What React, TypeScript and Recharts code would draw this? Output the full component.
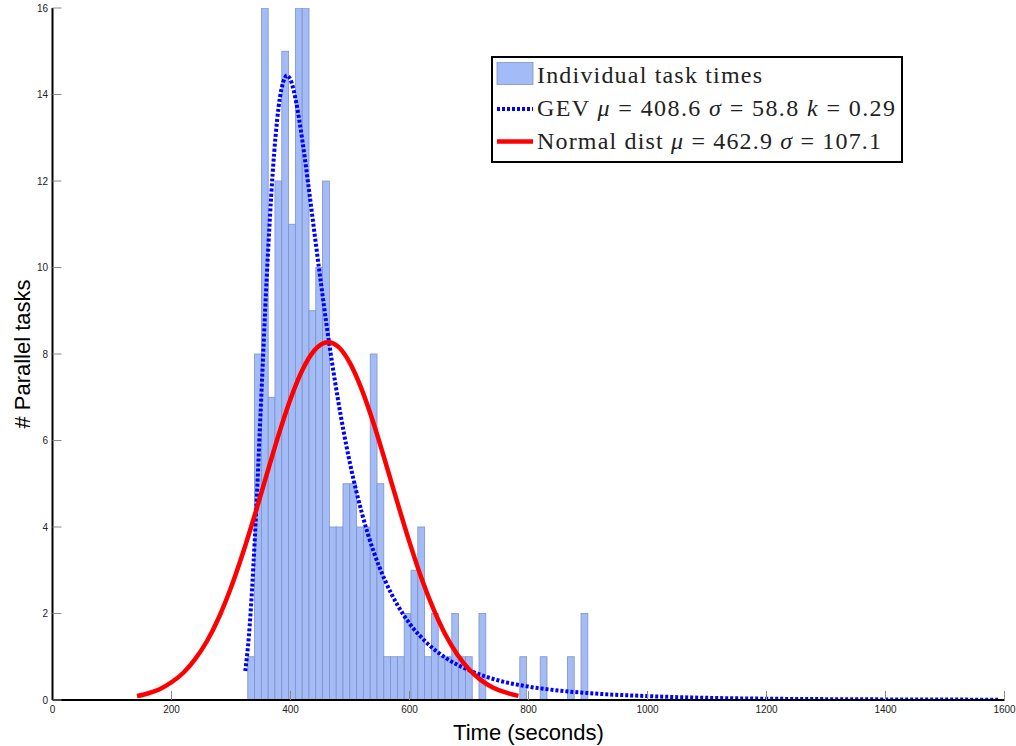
import React from "react";
import { ComposedChart, Bar, Line, XAxis, YAxis, Legend, Label } from "recharts";

// histogram: 50 bins of ~11.4 s, counts
const binCenters = [
  333.9, 345.3, 356.8, 368.2, 379.6, 391.1, 402.5, 413.9, 425.4, 436.8,
  448.2, 459.6, 471.1, 482.5, 493.9, 505.4, 516.8, 528.2, 539.7, 551.1,
  562.5, 573.9, 585.4, 596.8, 608.2, 619.7, 631.1, 642.5, 654.0, 665.4,
  676.8, 688.2, 699.7, 711.1, 722.5, 734.0, 745.4, 756.8, 768.3, 779.7,
  791.1, 802.5, 814.0, 825.4, 836.8, 848.3, 859.7, 871.1, 882.6, 894.0,
];
const binCounts = [
  1, 8, 16, 7, 12, 15, 11, 16, 16, 9,
  10, 12, 4, 4, 5, 5, 4, 4, 8, 5,
  1, 1, 1, 2, 3, 4, 1, 2, 1, 1,
  2, 1, 1, 0, 2, 0, 0, 0, 0, 0,
  1, 0, 0, 1, 0, 0, 0, 1, 0, 2,
];

// fitted GEV curve
const gevTime = [
  324, 330, 340, 350, 360, 370, 380, 390, 394, 400, 410, 420, 430, 440, 450,
  460, 470, 480, 500, 520, 540, 560, 580, 600, 630, 660, 700, 750, 800, 850,
  900, 1000, 1100, 1200, 1300, 1400, 1500, 1590,
];
const gevCount = [
  0.67, 1.47, 3.72, 6.73, 9.75, 12.17, 13.71, 14.37, 14.44, 14.34, 13.79, 12.93, 11.91, 10.83, 9.76,
  8.73, 7.79, 6.93, 5.47, 4.32, 3.42, 2.73, 2.19, 1.77, 1.31, 0.98, 0.69, 0.45, 0.31, 0.22,
  0.16, 0.09, 0.05, 0.03, 0.02, 0.014, 0.01, 0.007,
];

// fitted normal curve
const normTime = [
  142, 160, 180, 200, 220, 240, 260, 280, 300, 320, 340, 360, 380, 400, 420,
  440, 463, 480, 500, 520, 540, 560, 580, 600, 620, 640, 660, 680, 700, 720,
  740, 760, 783,
];
const normCount = [
  0.09, 0.15, 0.25, 0.41, 0.63, 0.95, 1.37, 1.92, 2.6, 3.4, 4.28, 5.21, 6.13, 6.96, 7.63,
  8.08, 8.27, 8.17, 7.79, 7.17, 6.38, 5.48, 4.55, 3.65, 2.82, 2.11, 1.52, 1.06, 0.71, 0.46,
  0.29, 0.18, 0.095,
];

const xTicks = [0, 200, 400, 600, 800, 1000, 1200, 1400, 1600];
const yTicks = [0, 2, 4, 6, 8, 10, 12, 14, 16];

const W = 1016;
const H = 746;
const margin = { top: 8, right: 11.5, bottom: 0, left: 22.5 };
const Y_AXIS_W = 30;
const X_AXIS_H = 46;
const PLOT_W = W - margin.left - margin.right - Y_AXIS_W;
const BIN_SECONDS = 11.43;
const BIN_PX = (BIN_SECONDS * PLOT_W) / 1600;

const BAR_FILL = "#a3bcf7";
const BAR_EDGE = "#8092c2";

const histData = binCenters.map((t, i) => ({ t, n: binCounts[i] }));
const gevData = gevTime.map((t, i) => ({ t, v: gevCount[i] }));
const normData = normTime.map((t, i) => ({ t, v: normCount[i] }));

const HistBar = (props: any) => {
  const { x, y, width, height } = props;
  if (!height || height <= 0) return <g />;
  const cx = x + width / 2;
  return (
    <rect
      x={cx - BIN_PX / 2}
      y={y}
      width={BIN_PX}
      height={height}
      fill={BAR_FILL}
      stroke={BAR_EDGE}
      strokeWidth={0.8}
    />
  );
};

const YTitle = (props: any) => {
  const vb = props.viewBox || {};
  const cx = 22;
  const cy = vb.y + vb.height / 2;
  return (
    <text
      x={cx}
      y={cy}
      transform={`rotate(-90 ${cx} ${cy})`}
      textAnchor="middle"
      dominantBaseline="central"
      fontSize={22}
      fill="#000"
    >
      # Parallel tasks
    </text>
  );
};

const serif = '"Liberation Serif", "Times New Roman", serif';

const LegendBox = () => (
  <svg width={412} height={107} style={{ display: "block" }}>
    <rect x={1} y={1} width={410} height={105} fill="#fff" stroke="#000" strokeWidth={2} />
    <rect x={6} y={6.5} width={36} height={22} fill={BAR_FILL} stroke={BAR_EDGE} strokeWidth={0.8} />
    <text x={46} y={26.5} fontFamily={serif} fontSize={24} fill="#222" textLength={225} lengthAdjust="spacing">
      Individual task times
    </text>
    <line x1={6} x2={42} y1={53} y2={53} stroke="#0000ff" strokeWidth={4} strokeDasharray="3 2" />
    <text x={46} y={59.5} fontFamily={serif} fontSize={24} fill="#222" textLength={358} lengthAdjust="spacing">
      GEV <tspan fontStyle="italic">μ</tspan> = 408.6 <tspan fontStyle="italic">σ</tspan> = 58.8{" "}
      <tspan fontStyle="italic">k</tspan> = 0.29
    </text>
    <line x1={6} x2={42} y1={85.5} y2={85.5} stroke="#ff0000" strokeWidth={4.5} />
    <text x={46} y={92.5} fontFamily={serif} fontSize={24} fill="#222" textLength={344} lengthAdjust="spacing">
      Normal dist <tspan fontStyle="italic">μ</tspan> = 462.9 <tspan fontStyle="italic">σ</tspan> = 107.1
    </text>
  </svg>
);

const tickStyle = { fontSize: 10, fill: "#222" };

export default function App() {
  return (
    <div
      style={{
        position: "absolute",
        left: 0,
        top: 0,
        width: W,
        height: H,
        background: "#fff",
        overflow: "hidden",
        fontFamily: '"Liberation Sans", Arial, sans-serif',
      }}
    >
      <ComposedChart width={W} height={H} data={histData} margin={margin}>
        <XAxis
          dataKey="t"
          type="number"
          domain={[0, 1600]}
          ticks={xTicks}
          interval={0}
          allowDataOverflow
          height={X_AXIS_H}
          tickSize={-9}
          tickMargin={15}
          axisLine={{ stroke: "#000", strokeWidth: 2 }}
          tickLine={{ stroke: "#888" }}
          tick={tickStyle}
        >
          <Label value="Time (seconds)" position="insideBottom" offset={6} style={{ fontSize: 22, fill: "#000" }} />
        </XAxis>
        <XAxis
          xAxisId="top"
          orientation="top"
          type="number"
          domain={[0, 1600]}
          ticks={xTicks}
          interval={0}
          height={0}
          tickSize={-9}
          tick={false}
          axisLine={{ stroke: "#666", strokeWidth: 1 }}
          tickLine={{ stroke: "#888" }}
        />
        <YAxis
          type="number"
          domain={[0, 16]}
          ticks={yTicks}
          interval={0}
          allowDataOverflow
          width={Y_AXIS_W}
          tickSize={-9}
          tickMargin={13.5}
          axisLine={{ stroke: "#000", strokeWidth: 2 }}
          tickLine={{ stroke: "#888" }}
          tick={tickStyle}
          label={<YTitle />}
        />
        <YAxis
          yAxisId="right"
          orientation="right"
          type="number"
          domain={[0, 16]}
          ticks={yTicks}
          interval={0}
          width={0}
          tickSize={-9}
          tick={false}
          axisLine={{ stroke: "#666", strokeWidth: 1 }}
          tickLine={{ stroke: "#888" }}
        />
        <Bar dataKey="n" shape={<HistBar />} isAnimationActive={false} />
        <Line
          data={gevData}
          dataKey="v"
          type="monotone"
          stroke="#0000ff"
          strokeWidth={4}
          strokeDasharray="3 2"
          dot={false}
          activeDot={false}
          isAnimationActive={false}
        />
        <Line
          data={normData}
          dataKey="v"
          type="monotone"
          stroke="#ff0000"
          strokeWidth={4.5}
          dot={false}
          activeDot={false}
          isAnimationActive={false}
        />
        <Legend
          layout="horizontal"
          verticalAlign="middle"
          align="center"
          wrapperStyle={{ left: 491, top: 56, width: 412, height: 107, right: "auto", bottom: "auto" }}
          content={() => <LegendBox />}
        />
      </ComposedChart>
    </div>
  );
}
